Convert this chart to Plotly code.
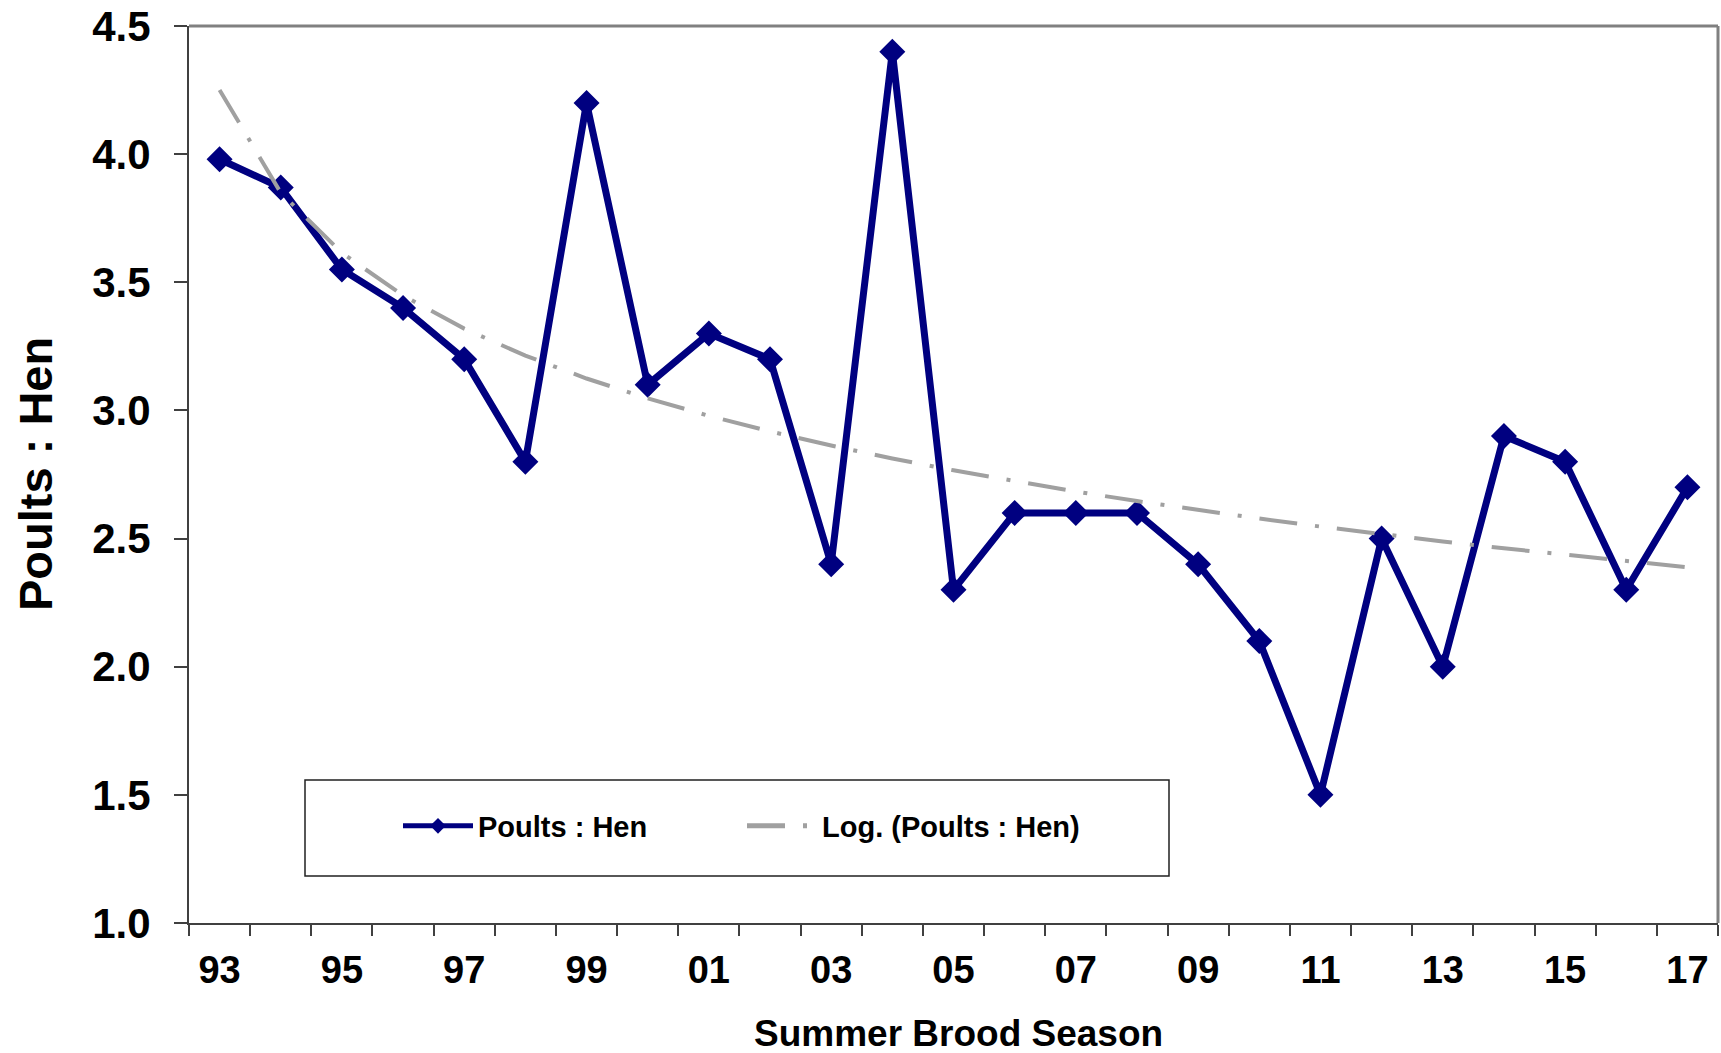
import numpy as np
import plotly.graph_objects as go

# ---- data ----
categories = ["93", "94", "95", "96", "97", "98", "99", "00", "01", "02", "03", "04", "05",
              "06", "07", "08", "09", "10", "11", "12", "13", "14", "15", "16", "17"]
poults_per_hen = [3.98, 3.87, 3.55, 3.40, 3.20, 2.80, 4.20, 3.10, 3.30, 3.20, 2.40, 4.40, 2.30,
                  2.60, 2.60, 2.60, 2.40, 2.10, 1.50, 2.50, 2.00, 2.90, 2.80, 2.30, 2.70]
y_ticks = [1.0, 1.5, 2.0, 2.5, 3.0, 3.5, 4.0, 4.5]

# positions 1..N on a numeric axis (Excel category axis)
xpos = np.arange(1, len(categories) + 1)

# logarithmic trendline (least squares on ln(x)), as Excel's "Log." trendline
a, b = np.polyfit(np.log(xpos), np.array(poults_per_hen), 1)
trend = a * np.log(xpos) + b

FONT = "Arial, Liberation Sans, sans-serif"
NAVY = "#000080"

W, H = 1721, 1053
L, R, T, B = 189, 3, 26, 130
PW = W - L - R
PH = H - T - B


def px_x(px):  # page px -> paper x
    return (px - L) / PW


def px_y(py):  # page px -> paper y
    return (H - B - py) / PH


fig = go.Figure()
fig.add_trace(go.Scatter(
    x=xpos, y=poults_per_hen, mode="lines+markers", name="Poults : Hen",
    line=dict(color=NAVY, width=7),
    marker=dict(symbol="diamond", size=20, color=NAVY),
))
fig.add_trace(go.Scatter(
    x=xpos, y=trend, mode="lines", name="Log. (Poults : Hen)",
    line=dict(color="#A0A0A0", width=4, dash="38px,18px,4px,18px"),
))

major = list(xpos[::2])
major_text = categories[::2]
boundaries = list(np.arange(0.5, len(categories) + 1, 1.0))

fig.update_layout(
    width=W, height=H,
    margin=dict(l=L, r=R, t=T, b=B, autoexpand=False),
    paper_bgcolor="white", plot_bgcolor="white",
    font=dict(family=FONT, color="black"),
    showlegend=True,
    legend=dict(
        orientation="h", x=px_x(398), y=px_y(826), xanchor="left", yanchor="middle",
        bgcolor="rgba(0,0,0,0)", borderwidth=0,
        font=dict(family=FONT, size=29, color="black", weight="bold"),
        itemwidth=70, itemsizing="constant", entrywidth=259,
        traceorder="normal",
    ),
    xaxis=dict(
        range=[0.5, len(categories) + 0.5],
        tickmode="array", tickvals=major, ticktext=major_text,
        ticks="", showgrid=False, zeroline=False,
        showline=True, linecolor="#404040", linewidth=2,
        tickfont=dict(family=FONT, size=38, color="black", weight="bold"),
        ticklabelstandoff=12, ticklabeloverflow="allow",
        minor=dict(tickmode="array", tickvals=boundaries, ticks="outside",
                   ticklen=11, tickwidth=2, tickcolor="#404040", showgrid=False),
    ),
    yaxis=dict(
        range=[1.0, 4.5], tickmode="array", tickvals=y_ticks,
        tickformat=".1f", ticks="outside", ticklen=13, tickwidth=2, tickcolor="#404040",
        showgrid=False, zeroline=False,
        showline=True, linecolor="#404040", linewidth=2,
        tickfont=dict(family=FONT, size=42, color="black", weight="bold"),
        ticklabelstandoff=15, ticklabeloverflow="allow",
    ),
    shapes=[
        # plot-area border (top and right) in grey
        dict(type="line", xref="x domain", yref="y domain", x0=0, x1=1, y0=1, y1=1,
             line=dict(color="#808080", width=3)),
        dict(type="line", xref="x domain", yref="y domain", x0=1, x1=1, y0=0, y1=1,
             line=dict(color="#808080", width=3)),
        # legend box
        dict(type="rect", xref="paper", yref="paper",
             x0=px_x(305), x1=px_x(1169), y0=px_y(876), y1=px_y(780),
             line=dict(color="#202020", width=1.5), fillcolor="rgba(255,255,255,0)",
             layer="below"),
    ],
    annotations=[
        dict(text="<b>Summer Brood Season</b>", xref="paper", yref="paper",
             x=px_x(958), y=px_y(1033), xanchor="center", yanchor="middle",
             showarrow=False, font=dict(family=FONT, size=37, color="black")),
        dict(text="<b>Poults : Hen</b>", xref="paper", yref="paper",
             x=px_x(36), y=px_y(474), xanchor="center", yanchor="middle", textangle=-90,
             showarrow=False, font=dict(family=FONT, size=47, color="black")),
    ],
)

fig.write_html(
    "out.html",
    config={"displayModeBar": False},
    post_script="document.body.style.margin='0';document.body.style.overflow='hidden';",
)
